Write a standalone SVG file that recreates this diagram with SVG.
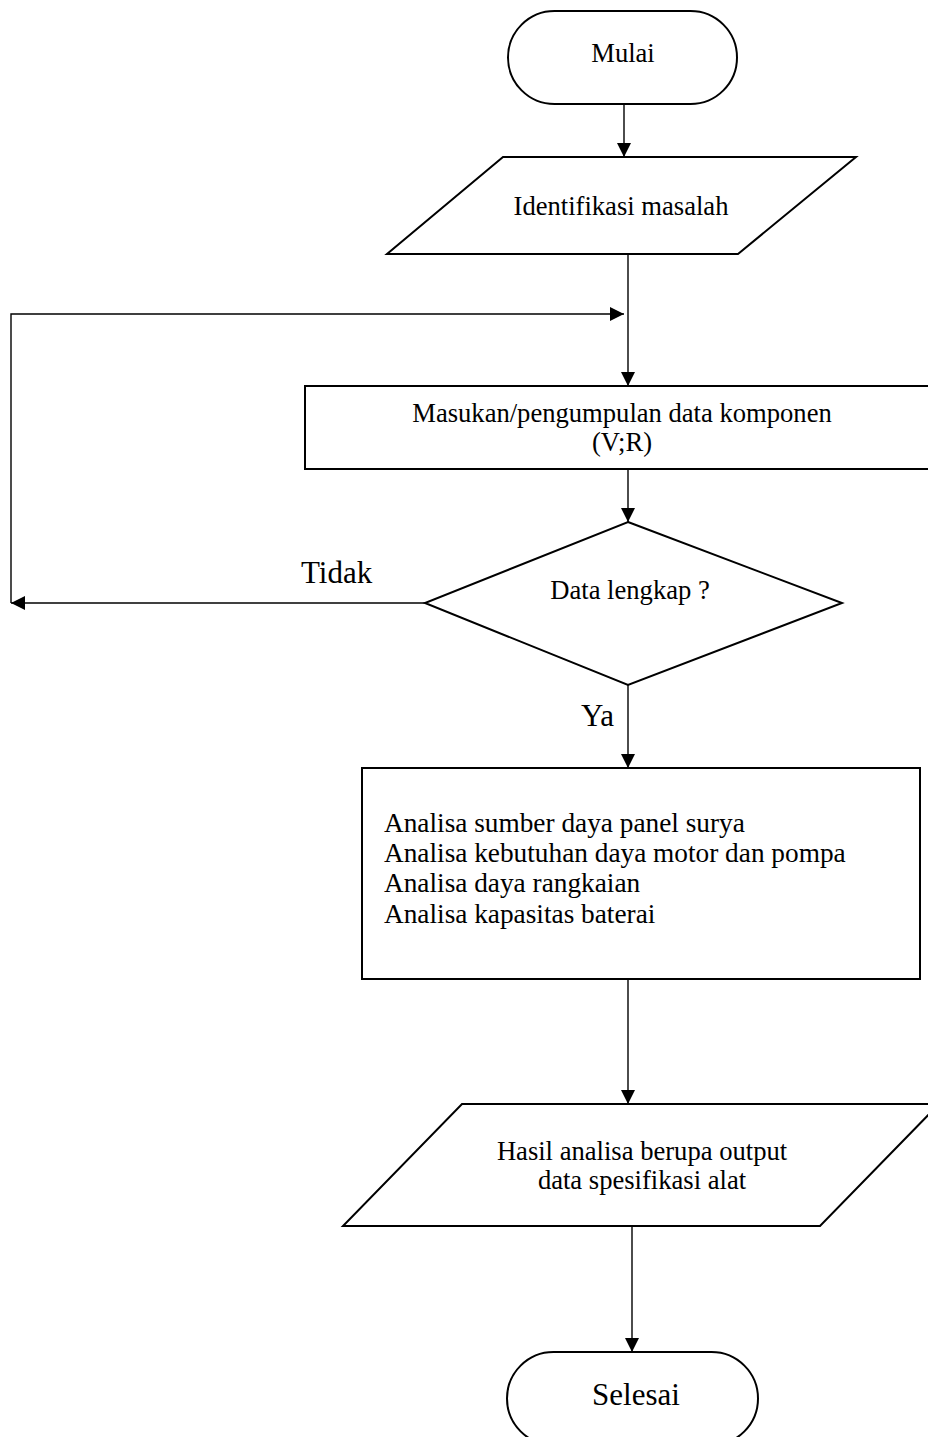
<svg xmlns="http://www.w3.org/2000/svg" width="928" height="1437" viewBox="0 0 928 1437">
<style>
.shape{fill:#fff;stroke:#000;stroke-width:2}
.conn{fill:none;stroke:#000;stroke-width:1.4}
.t{font-family:"Liberation Serif","Times New Roman",serif;font-size:26.6px;fill:#000}
.ta{font-family:"Liberation Serif","Times New Roman",serif;font-size:27.3px;fill:#000}
.tl{font-family:"Liberation Serif","Times New Roman",serif;font-size:31px;fill:#000}
</style>
<defs>
<marker id="ah" markerUnits="userSpaceOnUse" markerWidth="15" markerHeight="14" refX="14" refY="7" orient="auto">
<path d="M0,0 L14,7 L0,14 z" fill="#000"/>
</marker>
</defs>
<rect width="928" height="1437" fill="#fff"/>
<g id="connectors">
<path class="conn" d="M624,104 V157" marker-end="url(#ah)"/>
<path class="conn" d="M628,254 V386" marker-end="url(#ah)"/>
<path class="conn" d="M425,603 H11" stroke-width="2" marker-end="url(#ah)"/>
<path class="conn" d="M11,603 V314 H624" marker-end="url(#ah)"/>
<path class="conn" d="M628,469 V522" marker-end="url(#ah)"/>
<path class="conn" d="M628,685 V768" marker-end="url(#ah)"/>
<path class="conn" d="M628,979 V1104" marker-end="url(#ah)"/>
<path class="conn" d="M632,1226 V1352" marker-end="url(#ah)"/>
<text class="tl" x="301" y="583">Tidak</text>
<text class="tl" x="581" y="726">Ya</text>
</g>
<g id="mulai">
<rect class="shape" x="508" y="11" width="229" height="93" rx="46.5" ry="46.5"/>
<text class="t" x="623" y="62" text-anchor="middle">Mulai</text>
</g>
<g id="identifikasi">
<polygon class="shape" points="503,157 856,157 738,254 387,254"/>
<text class="t" x="621" y="215" text-anchor="middle">Identifikasi masalah</text>
</g>
<g id="masukan">
<rect class="shape" x="305" y="386" width="646" height="83"/>
<text class="t" x="622" y="422" text-anchor="middle">Masukan/pengumpulan data komponen</text>
<text class="t" x="622" y="451" text-anchor="middle">(V;R)</text>
</g>
<g id="keputusan">
<polygon class="shape" points="628,522 842,603 628,685 425,603"/>
<text class="t" x="630" y="599" text-anchor="middle">Data lengkap ?</text>
</g>
<g id="analisa">
<rect class="shape" x="362" y="768" width="558" height="211"/>
<text class="ta" x="384" y="832">Analisa sumber daya panel surya</text>
<text class="ta" x="384" y="862">Analisa kebutuhan daya motor dan pompa</text>
<text class="ta" x="384" y="892">Analisa daya rangkaian</text>
<text class="ta" x="384" y="923">Analisa kapasitas baterai</text>
</g>
<g id="hasil">
<polygon class="shape" points="462,1104 939,1104 820,1226 343,1226"/>
<text class="t" x="642" y="1160" text-anchor="middle">Hasil analisa berupa output</text>
<text class="t" x="642" y="1189" text-anchor="middle">data spesifikasi alat</text>
</g>
<g id="selesai">
<rect class="shape" x="507" y="1352" width="251" height="93" rx="46.5" ry="46.5"/>
<text class="tl" x="636" y="1405" text-anchor="middle">Selesai</text>
</g>
</svg>
